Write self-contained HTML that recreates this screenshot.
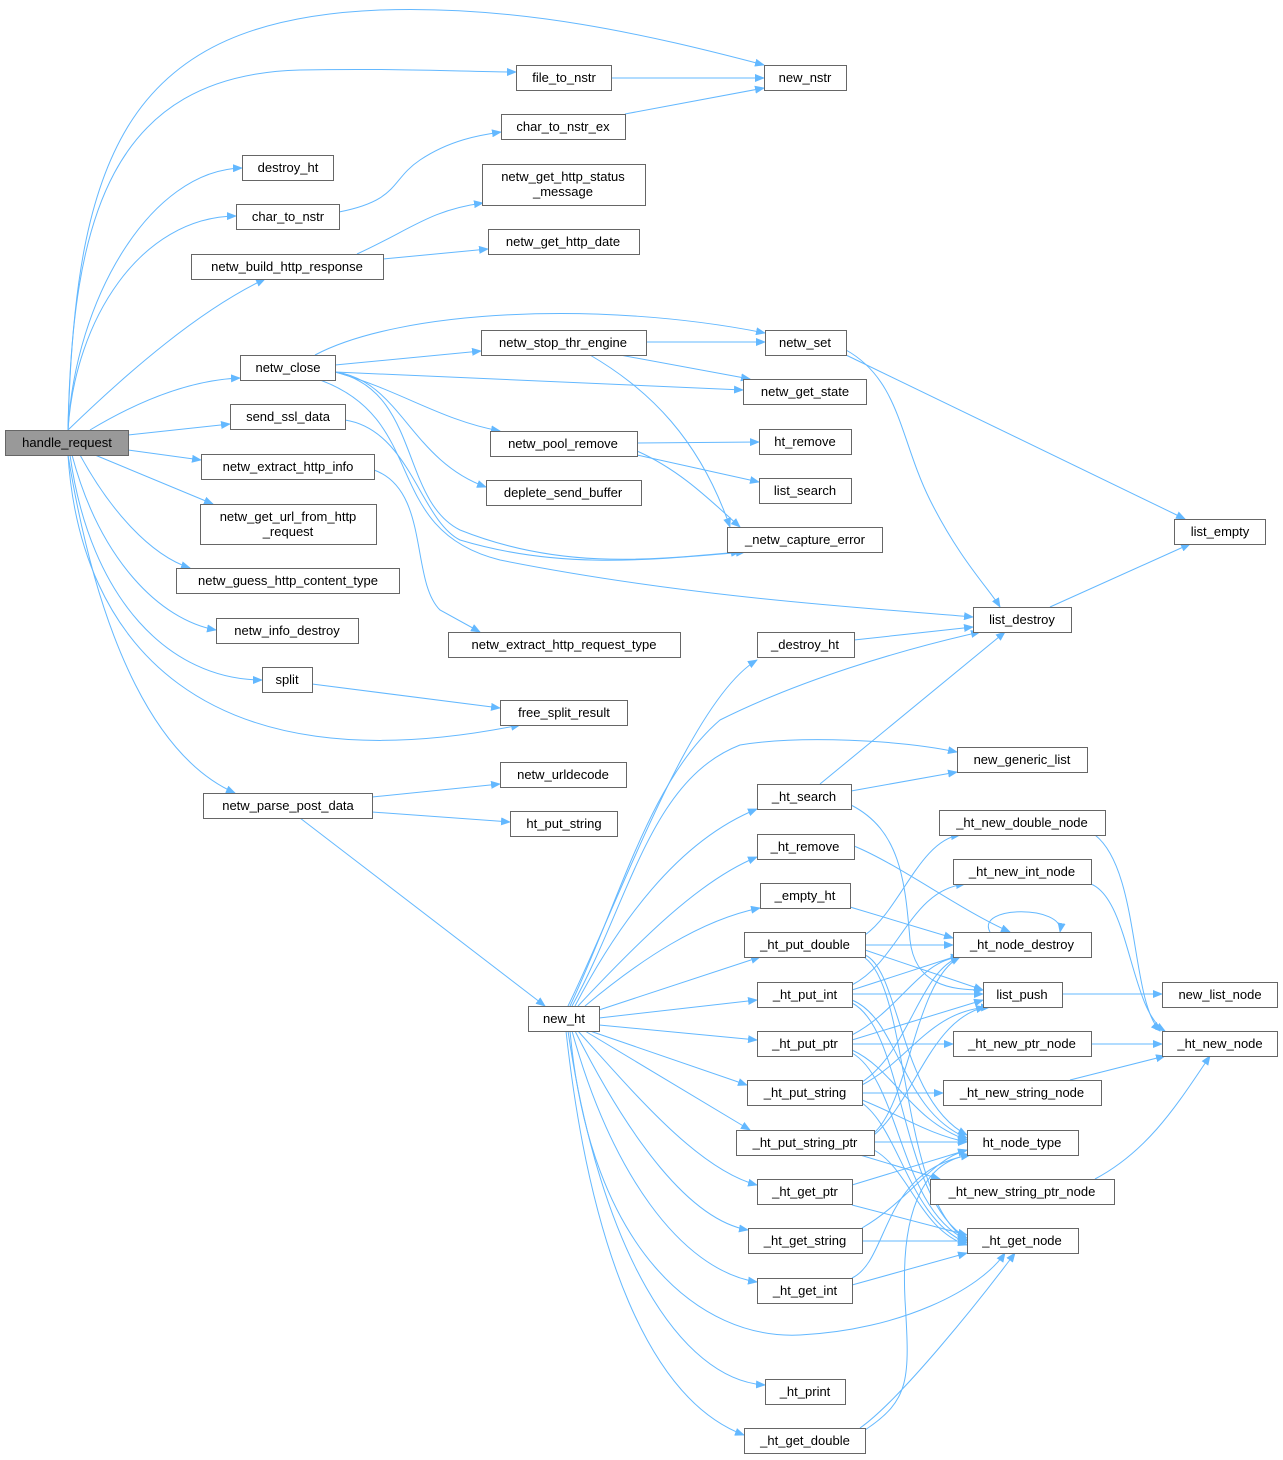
<!DOCTYPE html>
<html><head><meta charset="utf-8"><style>
html,body{margin:0;padding:0;background:#fff;}
svg{display:block;}
text{font-family:"Liberation Sans","DejaVu Sans",sans-serif;font-size:13px;fill:#000;}
.e{fill:none;stroke:#63b8ff;stroke-width:1;marker-end:url(#a);}
.n rect{fill:#fff;stroke:#666;stroke-width:1;}
</style></head><body>
<svg width="1283" height="1460" viewBox="0 0 1283 1460" xmlns="http://www.w3.org/2000/svg">
<defs><marker id="a" markerWidth="10" markerHeight="8" refX="9" refY="4" orient="auto" markerUnits="userSpaceOnUse"><path d="M0,0 L10,4 L0,8 z" fill="#63b8ff"/></marker></defs>
<g>
<path class="e" d="M68,430 C75,150 130,20 380,10 C520,5 650,35 764,65"/>
<path class="e" d="M68,430 C72,220 110,75 300,70 C400,68 470,72 516,72"/>
<path class="e" d="M68,430 C75,300 150,170 242,168"/>
<path class="e" d="M68,430 C75,320 140,217 236,216"/>
<path class="e" d="M68,430 C130,370 200,310 265,279"/>
<path class="e" d="M90,430 C140,400 190,380 240,378"/>
<path class="e" d="M128,435 L230,424"/>
<path class="e" d="M128,450 L201,460"/>
<path class="e" d="M95,455 L213,504"/>
<path class="e" d="M80,455 C110,510 150,555 190,568"/>
<path class="e" d="M72,455 C100,560 160,620 216,630"/>
<path class="e" d="M70,455 C90,600 170,680 262,680"/>
<path class="e" d="M68,455 C80,640 200,790 520,725"/>
<path class="e" d="M68,455 C100,650 160,760 235,793"/>
<path class="e" d="M611,78 L764,78"/>
<path class="e" d="M625,114 L764,88"/>
<path class="e" d="M339,212 C400,200 390,180 420,160 C450,140 480,135 501,132"/>
<path class="e" d="M357,254 C410,230 430,210 483,203"/>
<path class="e" d="M383,259 L488,249"/>
<path class="e" d="M315,355 C400,310 600,300 765,333"/>
<path class="e" d="M335,365 L481,351"/>
<path class="e" d="M335,372 L743,390"/>
<path class="e" d="M335,372 C400,390 440,420 500,431"/>
<path class="e" d="M335,372 C400,380 410,460 486,487"/>
<path class="e" d="M335,372 C420,390 400,500 460,530 C560,570 650,560 740,552"/>
<path class="e" d="M320,380 C430,420 380,530 500,560 C700,600 900,610 973,617"/>
<path class="e" d="M646,342 L765,342"/>
<path class="e" d="M620,355 L750,379"/>
<path class="e" d="M590,355 C650,390 700,440 730,527"/>
<path class="e" d="M846,350 C900,380 900,440 930,500 C960,560 990,590 1000,607"/>
<path class="e" d="M846,355 L1185,519"/>
<path class="e" d="M637,443 L759,442"/>
<path class="e" d="M637,455 L759,482"/>
<path class="e" d="M637,451 C680,470 710,500 740,527"/>
<path class="e" d="M345,420 C410,430 420,520 460,540 C560,570 650,560 745,552"/>
<path class="e" d="M374,470 C430,490 410,580 440,610 L480,632"/>
<path class="e" d="M1050,607 L1190,544"/>
<path class="e" d="M312,684 L500,708"/>
<path class="e" d="M372,797 L500,784"/>
<path class="e" d="M372,812 L510,822"/>
<path class="e" d="M300,818 L545,1006"/>
<path class="e" d="M854,640 L973,627"/>
<path class="e" d="M820,784 L1005,632"/>
<path class="e" d="M851,791 L957,772"/>
<path class="e" d="M851,805 C900,830 905,880 910,940 C915,985 950,990 983,990"/>
<path class="e" d="M854,846 C900,865 960,910 1010,932"/>
<path class="e" d="M850,907 L953,938"/>
<path class="e" d="M990,932 C975,905 1065,905 1060,932"/>
<path class="e" d="M865,945 L953,945"/>
<path class="e" d="M865,950 L983,990"/>
<path class="e" d="M865,935 C900,910 920,840 960,835"/>
<path class="e" d="M865,955 C900,970 900,1100 967,1135"/>
<path class="e" d="M865,958 C910,990 900,1200 967,1240"/>
<path class="e" d="M852,990 L960,955"/>
<path class="e" d="M852,994 L983,994"/>
<path class="e" d="M852,985 C900,960 910,890 965,884"/>
<path class="e" d="M852,1000 C900,1020 900,1110 967,1138"/>
<path class="e" d="M852,1003 C905,1030 900,1200 967,1238"/>
<path class="e" d="M852,1040 L983,1000"/>
<path class="e" d="M852,1044 L953,1044"/>
<path class="e" d="M852,1035 C900,1010 920,960 960,957"/>
<path class="e" d="M852,1050 C895,1070 910,1120 967,1140"/>
<path class="e" d="M852,1053 C900,1080 900,1210 967,1240"/>
<path class="e" d="M862,1093 L943,1093"/>
<path class="e" d="M862,1085 C910,1060 930,1010 990,1007"/>
<path class="e" d="M862,1082 C910,1050 920,970 960,957"/>
<path class="e" d="M862,1100 C900,1115 930,1135 967,1142"/>
<path class="e" d="M862,1103 C900,1130 910,1220 967,1243"/>
<path class="e" d="M874,1142 L967,1142"/>
<path class="e" d="M860,1155 L940,1179"/>
<path class="e" d="M874,1133 C910,1100 915,980 960,957"/>
<path class="e" d="M874,1135 C915,1100 930,1020 985,1007"/>
<path class="e" d="M874,1150 C910,1170 920,1230 967,1245"/>
<path class="e" d="M852,1185 L967,1150"/>
<path class="e" d="M852,1205 L967,1235"/>
<path class="e" d="M862,1228 C910,1200 930,1160 967,1150"/>
<path class="e" d="M862,1241 L967,1241"/>
<path class="e" d="M852,1285 L967,1253"/>
<path class="e" d="M852,1278 C890,1260 880,1170 970,1155"/>
<path class="e" d="M860,1428 C900,1400 980,1300 1015,1253"/>
<path class="e" d="M865,1430 C910,1400 910,1380 905,1300 C900,1200 930,1160 970,1155"/>
<path class="e" d="M1095,835 C1140,870 1130,1000 1160,1031"/>
<path class="e" d="M1091,884 C1130,900 1130,1010 1165,1031"/>
<path class="e" d="M1091,1044 L1162,1044"/>
<path class="e" d="M1070,1080 L1165,1056"/>
<path class="e" d="M1095,1179 C1150,1150 1180,1100 1210,1056"/>
<path class="e" d="M1062,994 L1162,994"/>
<path class="e" d="M568,1006 C620,900 690,700 757,660"/>
<path class="e" d="M570,1006 C620,900 650,780 720,720 C800,680 900,650 980,632"/>
<path class="e" d="M572,1006 C630,900 650,780 740,745 C800,735 900,740 957,752"/>
<path class="e" d="M575,1006 C620,920 680,840 757,809"/>
<path class="e" d="M578,1006 C640,940 700,880 757,857"/>
<path class="e" d="M585,1006 C640,960 700,920 760,908"/>
<path class="e" d="M599,1010 L760,957"/>
<path class="e" d="M599,1018 L757,1000"/>
<path class="e" d="M599,1025 L757,1040"/>
<path class="e" d="M590,1031 L747,1085"/>
<path class="e" d="M585,1031 L750,1130"/>
<path class="e" d="M578,1031 C640,1100 700,1170 757,1185"/>
<path class="e" d="M575,1031 C630,1140 690,1220 748,1230"/>
<path class="e" d="M572,1031 C610,1170 680,1270 757,1282"/>
<path class="e" d="M570,1031 C590,1250 700,1340 800,1335 C900,1330 980,1290 1005,1253"/>
<path class="e" d="M568,1031 C600,1250 680,1380 765,1385"/>
<path class="e" d="M566,1031 C590,1250 650,1400 744,1435"/>
</g>
<g class="n">
<rect x="5.5" y="430.5" width="123" height="25" style="fill:#999"/><text x="67" y="447" text-anchor="middle">handle_request</text>
<rect x="764.5" y="65.5" width="82" height="25"/><text x="805" y="82" text-anchor="middle">new_nstr</text>
<rect x="516.5" y="65.5" width="95" height="25"/><text x="564" y="82" text-anchor="middle">file_to_nstr</text>
<rect x="501.5" y="114.5" width="124" height="25"/><text x="563" y="131" text-anchor="middle">char_to_nstr_ex</text>
<rect x="242.5" y="155.5" width="91" height="25"/><text x="288" y="172" text-anchor="middle">destroy_ht</text>
<rect x="236.5" y="204.5" width="103" height="25"/><text x="288" y="221" text-anchor="middle">char_to_nstr</text>
<rect x="482.5" y="164.5" width="163" height="41"/><text x="563" y="181" text-anchor="middle">netw_get_http_status</text><text x="563" y="196" text-anchor="middle">_message</text>
<rect x="488.5" y="229.5" width="151" height="25"/><text x="563" y="246" text-anchor="middle">netw_get_http_date</text>
<rect x="191.5" y="254.5" width="192" height="25"/><text x="287" y="271" text-anchor="middle">netw_build_http_response</text>
<rect x="765.5" y="330.5" width="81" height="25"/><text x="805" y="347" text-anchor="middle">netw_set</text>
<rect x="481.5" y="330.5" width="165" height="25"/><text x="563" y="347" text-anchor="middle">netw_stop_thr_engine</text>
<rect x="240.5" y="355.5" width="95" height="25"/><text x="288" y="372" text-anchor="middle">netw_close</text>
<rect x="743.5" y="379.5" width="123" height="25"/><text x="805" y="396" text-anchor="middle">netw_get_state</text>
<rect x="230.5" y="404.5" width="115" height="25"/><text x="288" y="421" text-anchor="middle">send_ssl_data</text>
<rect x="759.5" y="429.5" width="92" height="25"/><text x="805" y="446" text-anchor="middle">ht_remove</text>
<rect x="490.5" y="431.5" width="147" height="25"/><text x="563" y="448" text-anchor="middle">netw_pool_remove</text>
<rect x="759.5" y="478.5" width="92" height="25"/><text x="805" y="495" text-anchor="middle">list_search</text>
<rect x="201.5" y="454.5" width="173" height="25"/><text x="288" y="471" text-anchor="middle">netw_extract_http_info</text>
<rect x="486.5" y="480.5" width="155" height="25"/><text x="563" y="497" text-anchor="middle">deplete_send_buffer</text>
<rect x="1174.5" y="519.5" width="91" height="25"/><text x="1220" y="536" text-anchor="middle">list_empty</text>
<rect x="200.5" y="504.5" width="176" height="40"/><text x="288" y="521" text-anchor="middle">netw_get_url_from_http</text><text x="288" y="536" text-anchor="middle">_request</text>
<rect x="727.5" y="527.5" width="155" height="25"/><text x="805" y="544" text-anchor="middle">_netw_capture_error</text>
<rect x="176.5" y="568.5" width="223" height="25"/><text x="288" y="585" text-anchor="middle">netw_guess_http_content_type</text>
<rect x="973.5" y="607.5" width="98" height="25"/><text x="1022" y="624" text-anchor="middle">list_destroy</text>
<rect x="216.5" y="618.5" width="142" height="25"/><text x="287" y="635" text-anchor="middle">netw_info_destroy</text>
<rect x="448.5" y="632.5" width="232" height="25"/><text x="564" y="649" text-anchor="middle">netw_extract_http_request_type</text>
<rect x="757.5" y="632.5" width="97" height="25"/><text x="805" y="649" text-anchor="middle">_destroy_ht</text>
<rect x="262.5" y="667.5" width="50" height="25"/><text x="287" y="684" text-anchor="middle">split</text>
<rect x="500.5" y="700.5" width="127" height="25"/><text x="564" y="717" text-anchor="middle">free_split_result</text>
<rect x="957.5" y="747.5" width="130" height="25"/><text x="1022" y="764" text-anchor="middle">new_generic_list</text>
<rect x="500.5" y="762.5" width="126" height="25"/><text x="563" y="779" text-anchor="middle">netw_urldecode</text>
<rect x="757.5" y="784.5" width="94" height="25"/><text x="804" y="801" text-anchor="middle">_ht_search</text>
<rect x="203.5" y="793.5" width="169" height="25"/><text x="288" y="810" text-anchor="middle">netw_parse_post_data</text>
<rect x="510.5" y="811.5" width="107" height="25"/><text x="564" y="828" text-anchor="middle">ht_put_string</text>
<rect x="939.5" y="810.5" width="166" height="25"/><text x="1022" y="827" text-anchor="middle">_ht_new_double_node</text>
<rect x="757.5" y="834.5" width="97" height="25"/><text x="805" y="851" text-anchor="middle">_ht_remove</text>
<rect x="953.5" y="859.5" width="138" height="25"/><text x="1022" y="876" text-anchor="middle">_ht_new_int_node</text>
<rect x="760.5" y="883.5" width="90" height="25"/><text x="805" y="900" text-anchor="middle">_empty_ht</text>
<rect x="744.5" y="932.5" width="121" height="25"/><text x="805" y="949" text-anchor="middle">_ht_put_double</text>
<rect x="953.5" y="932.5" width="138" height="25"/><text x="1022" y="949" text-anchor="middle">_ht_node_destroy</text>
<rect x="757.5" y="982.5" width="95" height="25"/><text x="805" y="999" text-anchor="middle">_ht_put_int</text>
<rect x="983.5" y="982.5" width="79" height="25"/><text x="1022" y="999" text-anchor="middle">list_push</text>
<rect x="1162.5" y="982.5" width="115" height="25"/><text x="1220" y="999" text-anchor="middle">new_list_node</text>
<rect x="528.5" y="1006.5" width="71" height="25"/><text x="564" y="1023" text-anchor="middle">new_ht</text>
<rect x="757.5" y="1031.5" width="95" height="25"/><text x="805" y="1048" text-anchor="middle">_ht_put_ptr</text>
<rect x="953.5" y="1031.5" width="138" height="25"/><text x="1022" y="1048" text-anchor="middle">_ht_new_ptr_node</text>
<rect x="1162.5" y="1031.5" width="115" height="25"/><text x="1220" y="1048" text-anchor="middle">_ht_new_node</text>
<rect x="747.5" y="1080.5" width="115" height="25"/><text x="805" y="1097" text-anchor="middle">_ht_put_string</text>
<rect x="943.5" y="1080.5" width="158" height="25"/><text x="1022" y="1097" text-anchor="middle">_ht_new_string_node</text>
<rect x="736.5" y="1130.5" width="138" height="25"/><text x="805" y="1147" text-anchor="middle">_ht_put_string_ptr</text>
<rect x="967.5" y="1130.5" width="111" height="25"/><text x="1022" y="1147" text-anchor="middle">ht_node_type</text>
<rect x="930.5" y="1179.5" width="184" height="25"/><text x="1022" y="1196" text-anchor="middle">_ht_new_string_ptr_node</text>
<rect x="757.5" y="1179.5" width="95" height="25"/><text x="805" y="1196" text-anchor="middle">_ht_get_ptr</text>
<rect x="748.5" y="1228.5" width="114" height="25"/><text x="805" y="1245" text-anchor="middle">_ht_get_string</text>
<rect x="967.5" y="1228.5" width="111" height="25"/><text x="1022" y="1245" text-anchor="middle">_ht_get_node</text>
<rect x="757.5" y="1278.5" width="95" height="25"/><text x="805" y="1295" text-anchor="middle">_ht_get_int</text>
<rect x="765.5" y="1379.5" width="80" height="25"/><text x="805" y="1396" text-anchor="middle">_ht_print</text>
<rect x="744.5" y="1428.5" width="121" height="25"/><text x="805" y="1445" text-anchor="middle">_ht_get_double</text>
</g>
</svg>
</body></html>
